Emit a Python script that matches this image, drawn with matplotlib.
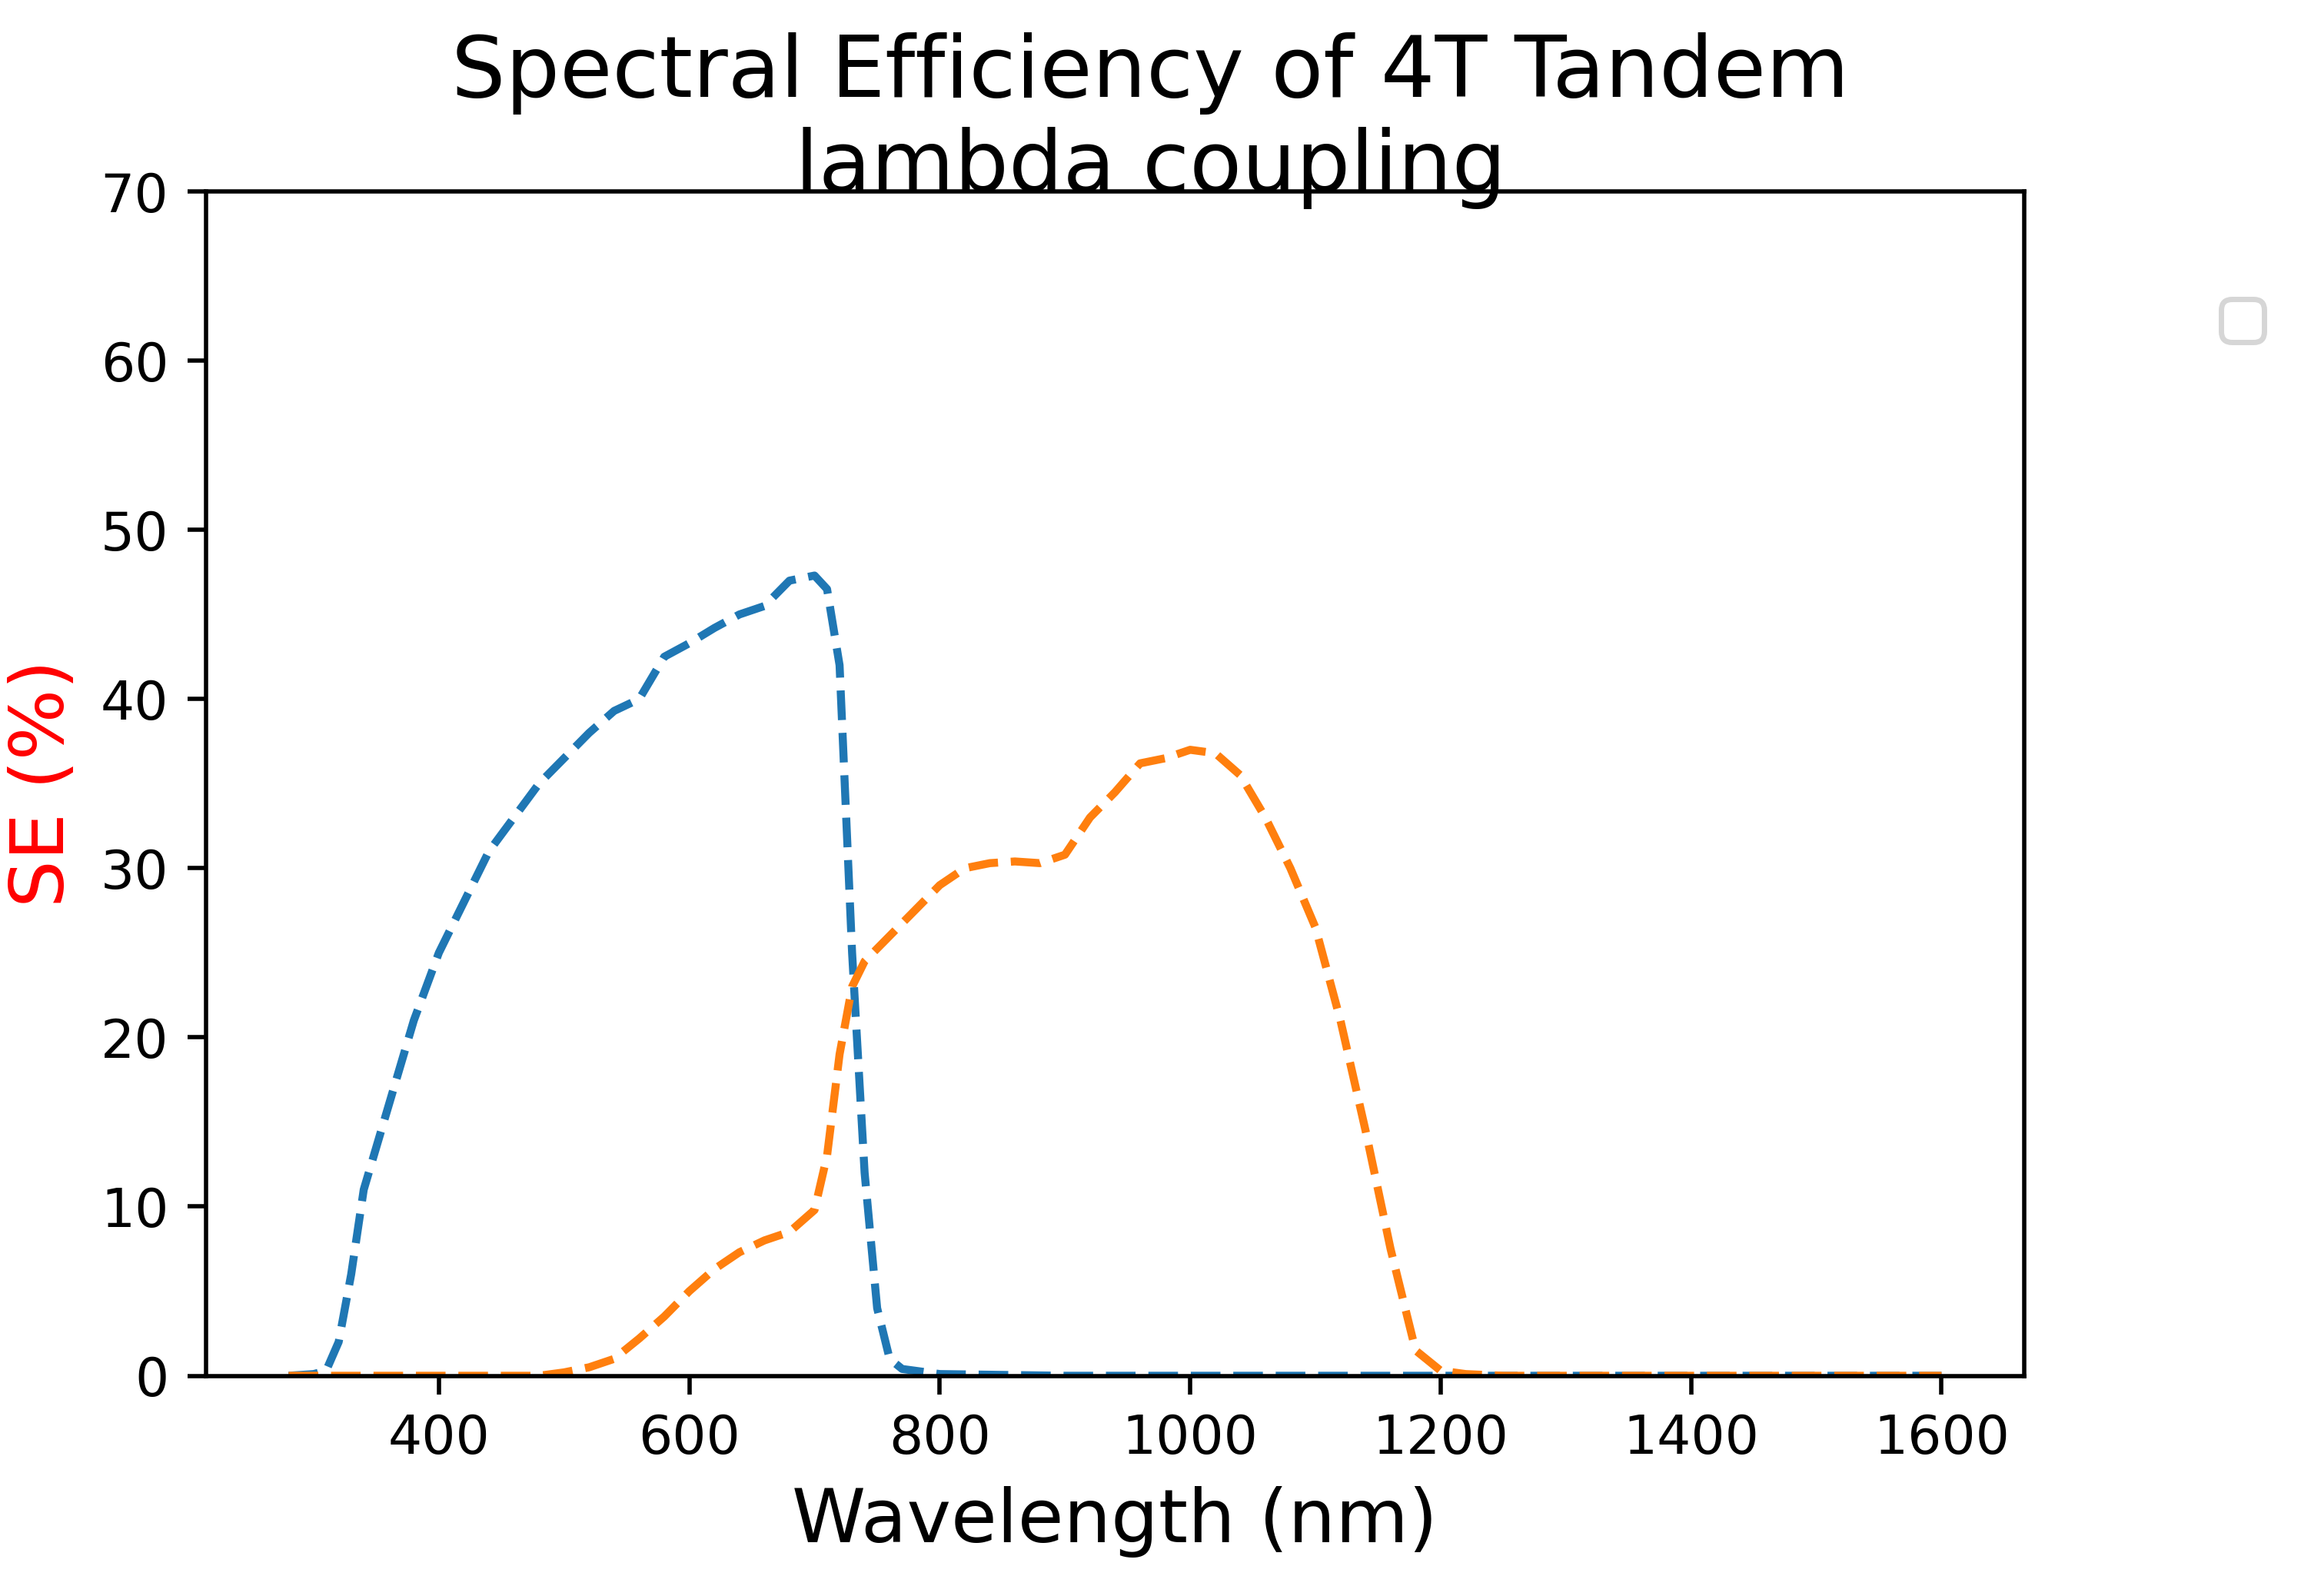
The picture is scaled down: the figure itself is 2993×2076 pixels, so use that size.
import matplotlib
matplotlib.use("Agg")
import matplotlib.pyplot as plt

# top cell (blue)
wl_top = [280, 300, 310, 320, 330, 340, 350, 360, 370, 380, 390, 400, 420, 440, 460, 480, 500,
          520, 540, 560, 580, 600, 620, 640, 660, 680, 700, 710, 720, 730, 740, 750, 760, 770,
          800, 900, 1000, 1100, 1200, 1300, 1400, 1500, 1600]
se_top = [0, 0.1, 0.3, 2, 6, 11, 13.5, 16, 18.5, 21, 23, 25, 28, 31, 33, 35, 36.5,
          38, 39.3, 40, 42.5, 43.3, 44.2, 45, 45.5, 47, 47.3, 46.5, 42, 25, 12, 4, 1, 0.4,
          0.1, 0, 0, 0, 0, 0, 0, 0, 0]

# bottom cell (orange)
wl_bot = [280, 350, 400, 450, 480, 500, 520, 540, 560, 580, 600, 620, 640, 660, 680, 700, 710,
          720, 730, 740, 760, 780, 800, 820, 840, 860, 880, 900, 920, 940, 960, 980, 1000,
          1020, 1040, 1060, 1080, 1100, 1120, 1140, 1160, 1180, 1200, 1220, 1250, 1300, 1400,
          1500, 1600]
se_bot = [0, 0, 0, 0, 0, 0.2, 0.5, 1, 2.2, 3.5, 5, 6.3, 7.3, 8, 8.5, 9.8, 13,
          19, 23, 24.5, 26, 27.5, 29, 30, 30.3, 30.4, 30.3, 30.8, 33, 34.5, 36.2, 36.5, 37,
          36.8, 35.5, 33, 30, 26.5, 21, 14.5, 7.5, 1.5, 0.3, 0.1, 0, 0, 0,
          0, 0]

fig = plt.figure(figsize=(5.986, 4.152), dpi=500)
ax = fig.add_axes([0.0895, 0.138, 0.7902, 0.742])
ax.plot(wl_top, se_top, '--')
ax.plot(wl_bot, se_bot, '--')
ax.set_ylim(0, 70)
ax.set_xlabel("Wavelength (nm)", fontsize=14)
ax.set_ylabel("SE (%)", fontsize=14, color='red')
fig.suptitle("Spectral Efficiency of 4T Tandem\nlambda coupling", fontsize=16, y=0.98)
ax.legend(loc='center', bbox_to_anchor=(1.12, 0.891))
fig.savefig("out.png", dpi=500)
